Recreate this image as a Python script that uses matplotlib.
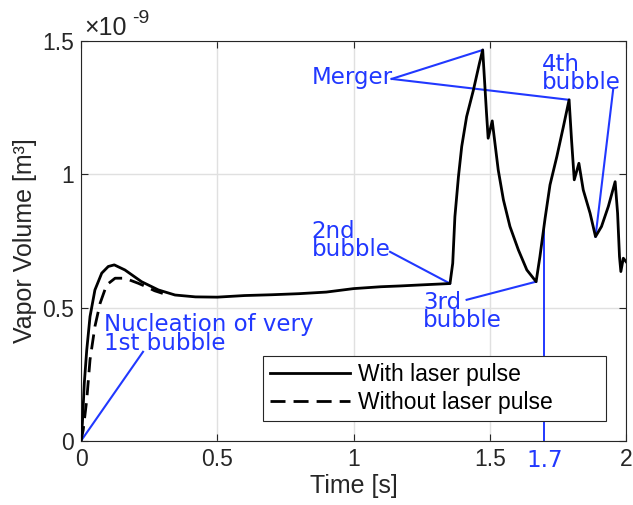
import numpy as np
import matplotlib.pyplot as plt

# with laser pulse (volume in 1e-9 m^3)
t_laser = [0, 0.005, 0.012, 0.021, 0.033, 0.051, 0.076, 0.1, 0.122, 0.161, 0.222, 0.284, 0.345,
           0.42, 0.5, 0.6, 0.7, 0.8, 0.9, 1.0, 1.1, 1.171, 1.25, 1.354,
           1.364, 1.372, 1.385, 1.397, 1.415, 1.44, 1.462, 1.474, 1.488, 1.494, 1.509, 1.519,
           1.531, 1.55, 1.574, 1.605, 1.636, 1.67, 1.684, 1.703, 1.721, 1.746, 1.77, 1.791,
           1.80, 1.81, 1.827, 1.843, 1.868, 1.888, 1.91, 1.935, 1.96, 1.969, 1.976, 1.981,
           1.99, 2.0]
v_laser = [0, 0.066, 0.216, 0.341, 0.466, 0.566, 0.629, 0.654, 0.66, 0.641, 0.597, 0.566, 0.547,
           0.54, 0.539, 0.545, 0.548, 0.552, 0.558, 0.571, 0.578, 0.581, 0.585, 0.59,
           0.666, 0.841, 0.991, 1.104, 1.216, 1.316, 1.416, 1.466, 1.229, 1.135, 1.2, 1.116,
           1.016, 0.904, 0.804, 0.716, 0.641, 0.597, 0.691, 0.835, 0.96, 1.066, 1.178, 1.279,
           1.129, 0.979, 1.041, 0.941, 0.854, 0.766, 0.804, 0.879, 0.972, 0.854, 0.691, 0.635,
           0.685, 0.672]

# without laser pulse
t_nolaser = [0, 0.008, 0.021, 0.033, 0.051, 0.07, 0.094, 0.125, 0.161, 0.21, 0.235, 0.27, 0.3]
v_nolaser = [0, 0.041, 0.154, 0.304, 0.429, 0.516, 0.585, 0.61, 0.61, 0.591, 0.58, 0.563, 0.553]

blue = (0.13, 0.22, 1.0)
dark = '#262626'
tick_font = 'Liberation Sans'
fs = 16.5

fig = plt.figure(figsize=(6.33, 5.05), dpi=100)
ax = fig.add_axes([0.128, 0.127, 0.861, 0.792])

ax.plot([1.7, 1.7], [0, 0.81], color=blue, lw=1.4, zorder=2)
ax.plot(t_laser, v_laser, '-k', lw=2, label='With laser pulse', zorder=3)
ax.plot(t_nolaser, v_nolaser, '--k', lw=2, dashes=(5.4, 2.9), label='Without laser pulse', zorder=3)

ax.set_xlim(0, 2)
ax.set_ylim(0, 1.5)
ax.set_xticks([0, 0.5, 1, 1.5, 2])
ax.set_xticklabels(['0', '0.5', '1', '1.5', '2'], fontfamily=tick_font, fontsize=16.5, color=dark)
ax.set_yticks([0, 0.5, 1, 1.5])
ax.set_yticklabels(['0', '0.5', '1', '1.5'], fontfamily=tick_font, fontsize=16.5, color=dark)
ax.tick_params(direction='in', top=True, right=True, length=5, width=0.8, colors=dark, pad=5)
ax.grid(True, color='#e0e0e0', lw=1)
ax.set_axisbelow(True)
for s in ax.spines.values():
    s.set_color(dark)
    s.set_linewidth(0.8)

ax.set_xlabel('Time [s]', fontfamily=tick_font, fontsize=18, color=dark, labelpad=2)
ax.set_ylabel('Vapor Volume [m³]', fontfamily=tick_font, fontsize=18, color=dark, labelpad=4)
# exponent label
ax.text(0.006, 1.015, '×10', transform=ax.transAxes, fontsize=18, fontfamily=tick_font,
        color=dark, va='baseline', ha='left')
ax.text(0.093, 1.045, '-9', transform=ax.transAxes, fontsize=14, fontfamily=tick_font,
        color=dark, va='baseline', ha='left')

# blue 1.7 label
ax.text(1.7, -0.02, '1.7', color=blue, fontsize=fs, ha='center', va='top',
        transform=ax.get_xaxis_transform())

# annotations (one text per line, positioned by baseline)
def label(x, ys, lines):
    for y, s in zip(ys, lines):
        ax.text(x, y, s, color=blue, fontsize=fs, va='baseline', ha='left')

label(0.084, [0.4125, 0.341], ['Nucleation of very', '1st bubble'])
ax.plot([0, 0.2275], [0, 0.334], color=blue, lw=1.5)

label(0.847, [0.761, 0.694], ['2nd', 'bubble'])
ax.plot([1.134, 1.354], [0.709, 0.59], color=blue, lw=1.5)

label(1.255, [0.495, 0.4275], ['3rd', 'bubble'])
ax.plot([1.415, 1.67], [0.529, 0.597], color=blue, lw=1.5)

label(0.848, [1.339], ['Merger'])
ax.plot([1.14, 1.474], [1.3575, 1.466], color=blue, lw=1.5)
ax.plot([1.14, 1.791], [1.3575, 1.279], color=blue, lw=1.5)

label(1.692, [1.3875, 1.32], ['4th', 'bubble'])
ax.plot([1.953, 1.888], [1.32, 0.766], color=blue, lw=1.5)

leg = ax.legend(loc='lower left', bbox_to_anchor=(0.334, 0.05, 0.629, 0.165), mode='expand',
                handlelength=3.5, handletextpad=0.35, prop={'family': tick_font, 'size': 16.5},
                frameon=True, fancybox=False, framealpha=1, edgecolor=dark, borderpad=0.3,
                labelspacing=0.22, borderaxespad=0)
leg.get_frame().set_linewidth(0.8)
leg.set_zorder(5)

fig.savefig('out.png', dpi=100)
